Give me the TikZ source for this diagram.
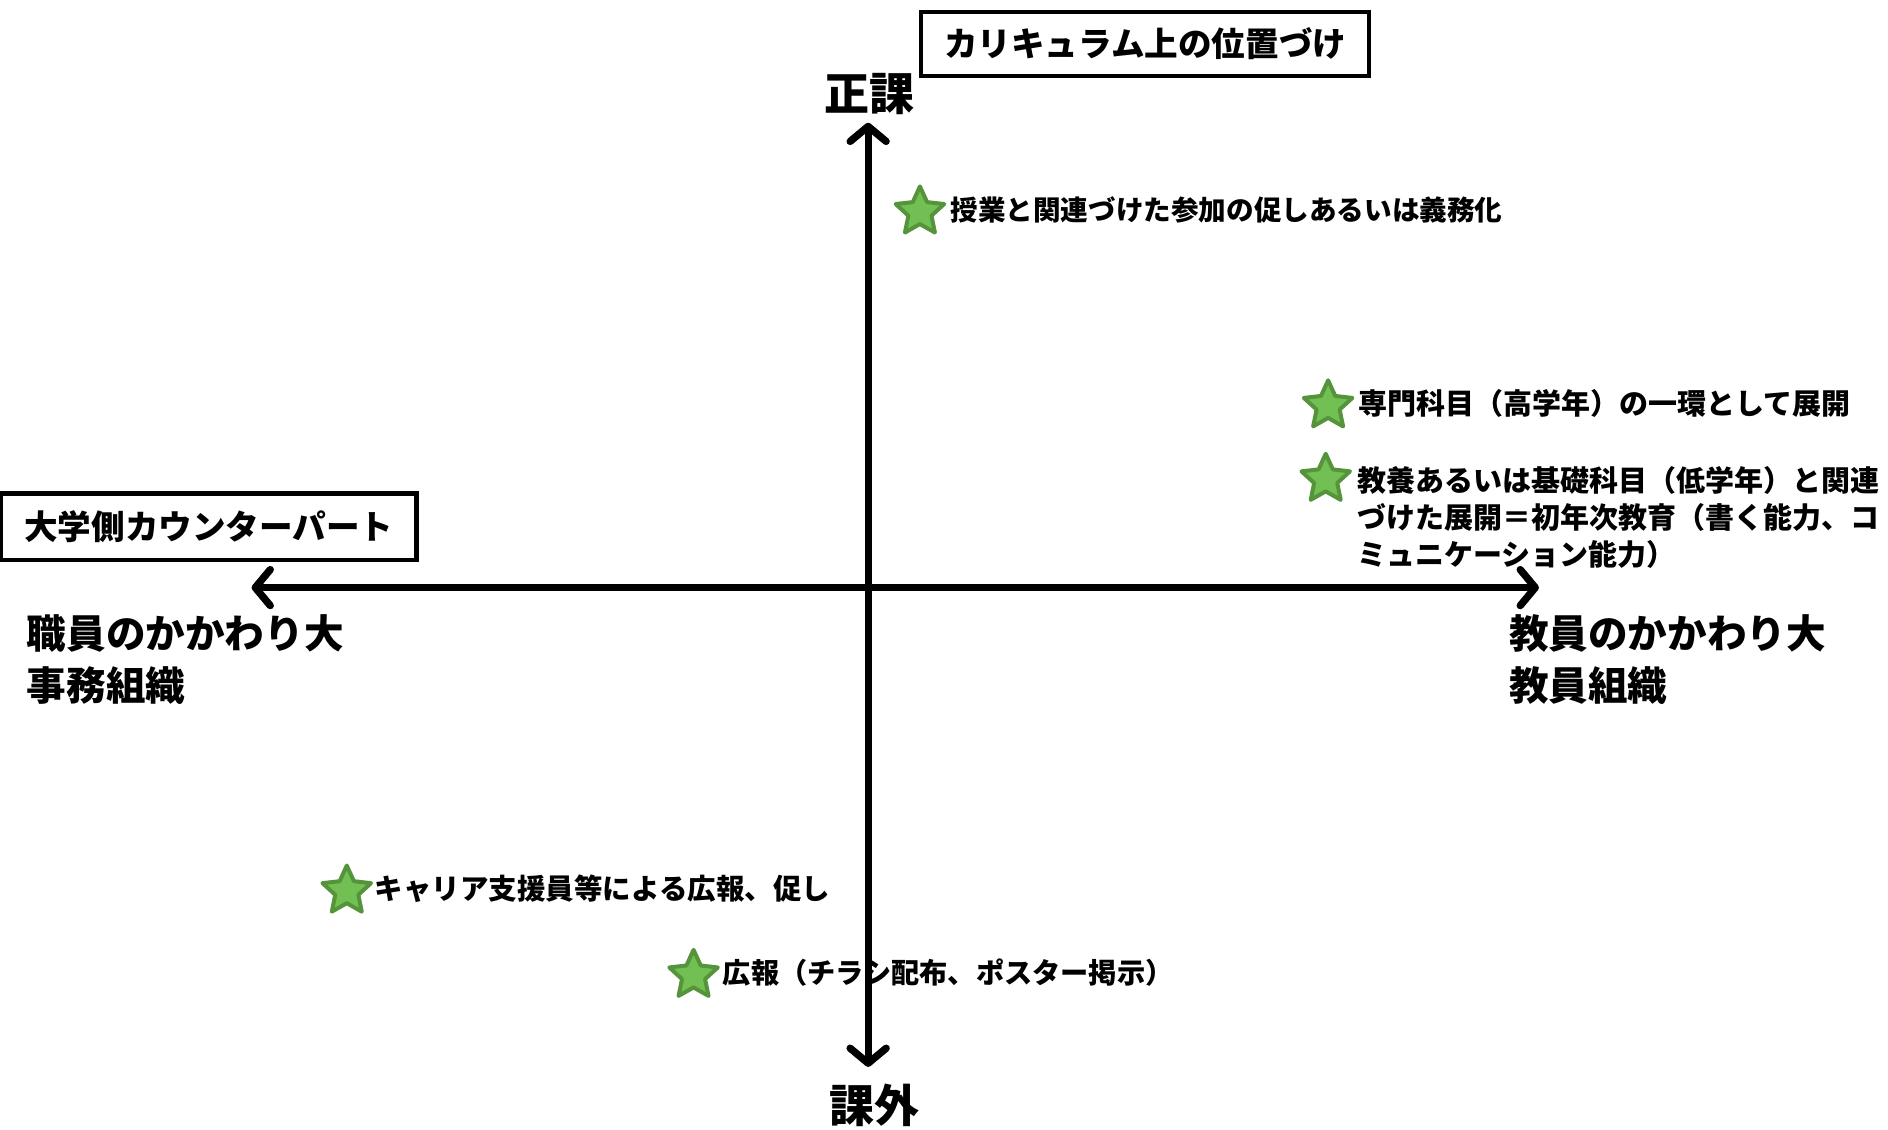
\documentclass[tikz,border=0pt]{standalone}
\usepackage{fontspec}
\newfontfamily\jp{Noto Sans CJK JP}
\usetikzlibrary{arrows.meta,shapes.geometric}
\definecolor{starfill}{RGB}{114,192,84}
\definecolor{stardraw}{RGB}{86,148,60}
\definecolor{shadowgray}{RGB}{130,130,130}
\begin{document}
\begin{tikzpicture}[x=0.60204pt,y=-0.60204pt,
  tipx/.tip={Straight Barb[length=7.5pt,width=18pt,round]},
  axisline/.style={line width=3.6pt, line cap=round, tipx-tipx},
  shadowline/.style={axisline, draw=shadowgray},
  titlebox/.style={draw, line width=2.2pt, inner sep=0, font=\jp\bfseries\fontsize{16.8}{20}\selectfont},
  poletext/.style={inner sep=0, font=\jp\bfseries\fontsize{22.5}{26}\selectfont},
  sidetext/.style={inner sep=0, anchor=north west, align=left, font=\jp\bfseries\fontsize{19.8}{25.9}\selectfont},
  lbl/.style={inner sep=0, anchor=west, align=left, font=\jp\bfseries\fontsize{#1}{18.4}\selectfont},
  lbl/.default=13.8,
  starmark/.style={star, star points=5, star point ratio=2.1, minimum size=25.5pt, inner sep=0, fill=starfill, draw=stardraw, line width=2pt, line join=round}]
\useasboundingbox (0,0) rectangle (1568,938);

% boxes
\node[titlebox, minimum width=372*0.60204pt, minimum height=53*0.60204pt] (curr) at (951,36.5) {カリキュラム上の位置づけ};
\node[titlebox, minimum width=345*0.60204pt, minimum height=55*0.60204pt] (cp) at (173.5,437.5) {大学側カウンターパート};

% pole labels
\node[poletext] (seika) at (722,78) {正課};
\node[poletext] (kagai) at (726,918) {課外};
\node[sidetext] (staff) at (22,510) {職員のかかわり大\\事務組織};
\node[sidetext] (fac) at (1253,510) {教員のかかわり大\\教員組織};

% stars and labels
\node[starmark] (st1) at (764,176) {};
\node[lbl] (l1) at (789,174) {授業と関連づけた参加の促しあるいは義務化};
\node[starmark] (st2) at (1103,337) {};
\node[lbl=14.5] (l2) at (1128,335) {専門科目（高学年）の一環として展開};
\node[starmark] (st3) at (1101,398) {};
\node[lbl=14.5, anchor=north west] (l3) at (1127,387) {教養あるいは基礎科目（低学年）と関連\\づけた展開＝初年次教育（書く能力、コ\\ミュニケーション能力）};
\node[starmark] (st4) at (288,740) {};
\node[lbl=14.25] (l4) at (311,738) {キャリア支援員等による広報、促し};
\node[starmark] (st5) at (576,810) {};
\node[lbl=14.1] (l5) at (600,808) {広報（チラシ配布、ポスター掲示）};

% axes
\coordinate (top) at (721,102);
\coordinate (bot) at (721,886);
\coordinate (lft) at (209,488);
\coordinate (rgt) at (1278,488);
\begin{scope}[shift={(2,4)}]
  \draw[shadowline] (lft) -- (rgt);
  \draw[shadowline] (bot) -- (top);
\end{scope}
\draw[axisline] (lft) -- (rgt);
\draw[axisline] (bot) -- (top);
\end{tikzpicture}
\end{document}
